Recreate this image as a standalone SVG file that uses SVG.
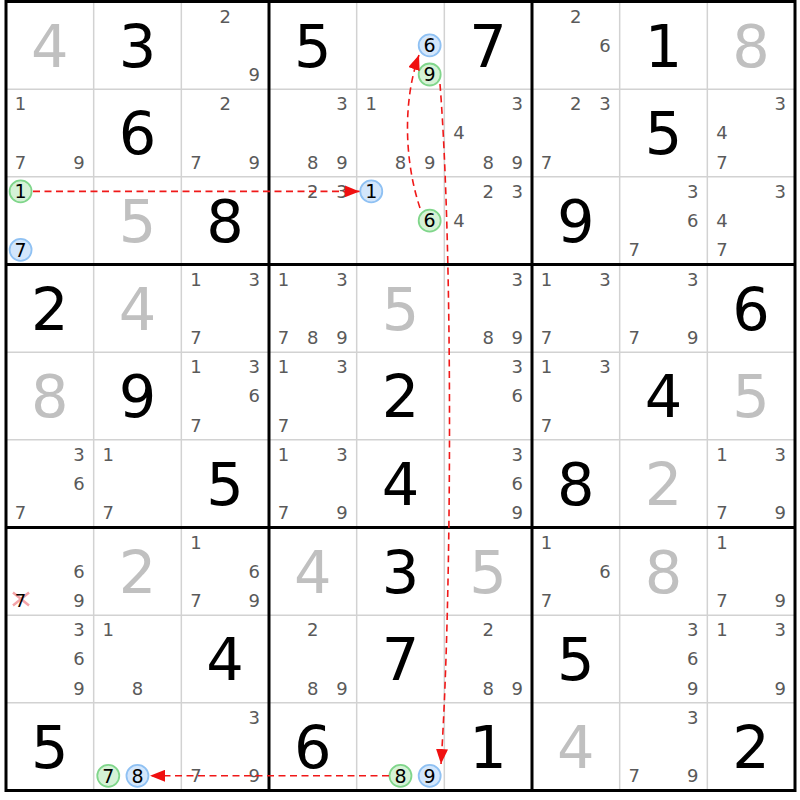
<svg xmlns="http://www.w3.org/2000/svg" width="800" height="800" viewBox="0 0 800 800">
<style>
text{font-family:"DejaVu Sans","Liberation Sans",sans-serif;text-anchor:middle}
.c{font-size:18px;fill:#5a5a5a}
.b{font-size:59px;fill:#000}
.g{font-size:59px;fill:#c0c0c0}
.k{font-size:19px;fill:#000}
.cb{fill:#d3e6fb;stroke:#8fc1f3;stroke-width:1.8}
.cg{fill:#d5f2d6;stroke:#80d68b;stroke-width:1.8}
.thin{stroke:#d2d2d2;stroke-width:1.5}
.thick{stroke:#000;stroke-width:3}
.link{fill:none;stroke:#f01818;stroke-width:1.6;stroke-dasharray:7,4.5}
.x{stroke:#f4a3a8;stroke-width:2.5}
</style>
<defs>
<marker id="ah" markerUnits="userSpaceOnUse" markerWidth="15" markerHeight="12" refX="15" refY="6" orient="auto">
<path d="M0,0 L15,6 L0,12 z" fill="#f01010"/>
</marker>
</defs>
<rect width="800" height="800" fill="#fff"/>
<g id="grid">
<g class="thin">
<line x1="93.67" y1="1.5" x2="93.67" y2="790.5"/>
<line x1="181.33" y1="1.5" x2="181.33" y2="790.5"/>
<line x1="356.67" y1="1.5" x2="356.67" y2="790.5"/>
<line x1="444.33" y1="1.5" x2="444.33" y2="790.5"/>
<line x1="619.67" y1="1.5" x2="619.67" y2="790.5"/>
<line x1="707.33" y1="1.5" x2="707.33" y2="790.5"/>
<line x1="6" y1="89.17" x2="795" y2="89.17"/>
<line x1="6" y1="176.83" x2="795" y2="176.83"/>
<line x1="6" y1="352.17" x2="795" y2="352.17"/>
<line x1="6" y1="439.83" x2="795" y2="439.83"/>
<line x1="6" y1="615.17" x2="795" y2="615.17"/>
<line x1="6" y1="702.83" x2="795" y2="702.83"/>
</g>
<g class="thick">
<line x1="269" y1="1.5" x2="269" y2="790.5"/>
<line x1="532" y1="1.5" x2="532" y2="790.5"/>
<line x1="6" y1="264.5" x2="795" y2="264.5"/>
<line x1="6" y1="527.5" x2="795" y2="527.5"/>
<rect x="6" y="1.5" width="789" height="789" fill="none"/>
</g>
</g>

<!-- row 0 -->
<g id="r0c0" transform="translate(6,1.5)"><text class="g" x="43.8" y="65">4</text></g>
<g id="r0c1" transform="translate(93.67,1.5)"><text class="b" x="43.8" y="65">3</text></g>
<g id="r0c2" transform="translate(181.33,1.5)"><text class="c" x="43.8" y="21">2</text><text class="c" x="73" y="79.5">9</text></g>
<g id="r0c3" transform="translate(269,1.5)"><text class="b" x="43.8" y="65">5</text></g>
<g id="r0c4" transform="translate(356.67,1.5)"><circle class="cb" cx="73" cy="43.8" r="11"/><text class="k" x="73" y="50.6">6</text><circle class="cg" cx="73" cy="73" r="11"/><text class="k" x="73" y="79.8">9</text></g>
<g id="r0c5" transform="translate(444.33,1.5)"><text class="b" x="43.8" y="65">7</text></g>
<g id="r0c6" transform="translate(532,1.5)"><text class="c" x="43.8" y="21">2</text><text class="c" x="73" y="50.3">6</text></g>
<g id="r0c7" transform="translate(619.67,1.5)"><text class="b" x="43.8" y="65">1</text></g>
<g id="r0c8" transform="translate(707.33,1.5)"><text class="g" x="43.8" y="65">8</text></g>

<!-- row 1 -->
<g id="r1c0" transform="translate(6,89.17)"><text class="c" x="14.6" y="21">1</text><text class="c" x="14.6" y="79.5">7</text><text class="c" x="73" y="79.5">9</text></g>
<g id="r1c1" transform="translate(93.67,89.17)"><text class="b" x="43.8" y="65">6</text></g>
<g id="r1c2" transform="translate(181.33,89.17)"><text class="c" x="43.8" y="21">2</text><text class="c" x="14.6" y="79.5">7</text><text class="c" x="73" y="79.5">9</text></g>
<g id="r1c3" transform="translate(269,89.17)"><text class="c" x="73" y="21">3</text><text class="c" x="43.8" y="79.5">8</text><text class="c" x="73" y="79.5">9</text></g>
<g id="r1c4" transform="translate(356.67,89.17)"><text class="c" x="14.6" y="21">1</text><text class="c" x="43.8" y="79.5">8</text><text class="c" x="73" y="79.5">9</text></g>
<g id="r1c5" transform="translate(444.33,89.17)"><text class="c" x="73" y="21">3</text><text class="c" x="14.6" y="50.3">4</text><text class="c" x="43.8" y="79.5">8</text><text class="c" x="73" y="79.5">9</text></g>
<g id="r1c6" transform="translate(532,89.17)"><text class="c" x="43.8" y="21">2</text><text class="c" x="73" y="21">3</text><text class="c" x="14.6" y="79.5">7</text></g>
<g id="r1c7" transform="translate(619.67,89.17)"><text class="b" x="43.8" y="65">5</text></g>
<g id="r1c8" transform="translate(707.33,89.17)"><text class="c" x="73" y="21">3</text><text class="c" x="14.6" y="50.3">4</text><text class="c" x="14.6" y="79.5">7</text></g>

<!-- row 2 -->
<g id="r2c0" transform="translate(6,176.83)"><circle class="cg" cx="14.6" cy="14.6" r="11"/><text class="k" x="14.6" y="21.4">1</text><circle class="cb" cx="14.6" cy="73" r="11"/><text class="k" x="14.6" y="79.8">7</text></g>
<g id="r2c1" transform="translate(93.67,176.83)"><text class="g" x="43.8" y="65">5</text></g>
<g id="r2c2" transform="translate(181.33,176.83)"><text class="b" x="43.8" y="65">8</text></g>
<g id="r2c3" transform="translate(269,176.83)"><text class="c" x="43.8" y="21">2</text><text class="c" x="73" y="21">3</text></g>
<g id="r2c4" transform="translate(356.67,176.83)"><circle class="cb" cx="14.6" cy="14.6" r="11"/><text class="k" x="14.6" y="21.4">1</text><circle class="cg" cx="73" cy="43.8" r="11"/><text class="k" x="73" y="50.6">6</text></g>
<g id="r2c5" transform="translate(444.33,176.83)"><text class="c" x="43.8" y="21">2</text><text class="c" x="73" y="21">3</text><text class="c" x="14.6" y="50.3">4</text></g>
<g id="r2c6" transform="translate(532,176.83)"><text class="b" x="43.8" y="65">9</text></g>
<g id="r2c7" transform="translate(619.67,176.83)"><text class="c" x="73" y="21">3</text><text class="c" x="73" y="50.3">6</text><text class="c" x="14.6" y="79.5">7</text></g>
<g id="r2c8" transform="translate(707.33,176.83)"><text class="c" x="73" y="21">3</text><text class="c" x="14.6" y="50.3">4</text><text class="c" x="14.6" y="79.5">7</text></g>

<!-- row 3 -->
<g id="r3c0" transform="translate(6,264.5)"><text class="b" x="43.8" y="65">2</text></g>
<g id="r3c1" transform="translate(93.67,264.5)"><text class="g" x="43.8" y="65">4</text></g>
<g id="r3c2" transform="translate(181.33,264.5)"><text class="c" x="14.6" y="21">1</text><text class="c" x="73" y="21">3</text><text class="c" x="14.6" y="79.5">7</text></g>
<g id="r3c3" transform="translate(269,264.5)"><text class="c" x="14.6" y="21">1</text><text class="c" x="73" y="21">3</text><text class="c" x="14.6" y="79.5">7</text><text class="c" x="43.8" y="79.5">8</text><text class="c" x="73" y="79.5">9</text></g>
<g id="r3c4" transform="translate(356.67,264.5)"><text class="g" x="43.8" y="65">5</text></g>
<g id="r3c5" transform="translate(444.33,264.5)"><text class="c" x="73" y="21">3</text><text class="c" x="43.8" y="79.5">8</text><text class="c" x="73" y="79.5">9</text></g>
<g id="r3c6" transform="translate(532,264.5)"><text class="c" x="14.6" y="21">1</text><text class="c" x="73" y="21">3</text><text class="c" x="14.6" y="79.5">7</text></g>
<g id="r3c7" transform="translate(619.67,264.5)"><text class="c" x="73" y="21">3</text><text class="c" x="14.6" y="79.5">7</text><text class="c" x="73" y="79.5">9</text></g>
<g id="r3c8" transform="translate(707.33,264.5)"><text class="b" x="43.8" y="65">6</text></g>

<!-- row 4 -->
<g id="r4c0" transform="translate(6,352.17)"><text class="g" x="43.8" y="65">8</text></g>
<g id="r4c1" transform="translate(93.67,352.17)"><text class="b" x="43.8" y="65">9</text></g>
<g id="r4c2" transform="translate(181.33,352.17)"><text class="c" x="14.6" y="21">1</text><text class="c" x="73" y="21">3</text><text class="c" x="73" y="50.3">6</text><text class="c" x="14.6" y="79.5">7</text></g>
<g id="r4c3" transform="translate(269,352.17)"><text class="c" x="14.6" y="21">1</text><text class="c" x="73" y="21">3</text><text class="c" x="14.6" y="79.5">7</text></g>
<g id="r4c4" transform="translate(356.67,352.17)"><text class="b" x="43.8" y="65">2</text></g>
<g id="r4c5" transform="translate(444.33,352.17)"><text class="c" x="73" y="21">3</text><text class="c" x="73" y="50.3">6</text></g>
<g id="r4c6" transform="translate(532,352.17)"><text class="c" x="14.6" y="21">1</text><text class="c" x="73" y="21">3</text><text class="c" x="14.6" y="79.5">7</text></g>
<g id="r4c7" transform="translate(619.67,352.17)"><text class="b" x="43.8" y="65">4</text></g>
<g id="r4c8" transform="translate(707.33,352.17)"><text class="g" x="43.8" y="65">5</text></g>

<!-- row 5 -->
<g id="r5c0" transform="translate(6,439.83)"><text class="c" x="73" y="21">3</text><text class="c" x="73" y="50.3">6</text><text class="c" x="14.6" y="79.5">7</text></g>
<g id="r5c1" transform="translate(93.67,439.83)"><text class="c" x="14.6" y="21">1</text><text class="c" x="14.6" y="79.5">7</text></g>
<g id="r5c2" transform="translate(181.33,439.83)"><text class="b" x="43.8" y="65">5</text></g>
<g id="r5c3" transform="translate(269,439.83)"><text class="c" x="14.6" y="21">1</text><text class="c" x="73" y="21">3</text><text class="c" x="14.6" y="79.5">7</text><text class="c" x="73" y="79.5">9</text></g>
<g id="r5c4" transform="translate(356.67,439.83)"><text class="b" x="43.8" y="65">4</text></g>
<g id="r5c5" transform="translate(444.33,439.83)"><text class="c" x="73" y="21">3</text><text class="c" x="73" y="50.3">6</text><text class="c" x="73" y="79.5">9</text></g>
<g id="r5c6" transform="translate(532,439.83)"><text class="b" x="43.8" y="65">8</text></g>
<g id="r5c7" transform="translate(619.67,439.83)"><text class="g" x="43.8" y="65">2</text></g>
<g id="r5c8" transform="translate(707.33,439.83)"><text class="c" x="14.6" y="21">1</text><text class="c" x="73" y="21">3</text><text class="c" x="14.6" y="79.5">7</text><text class="c" x="73" y="79.5">9</text></g>

<!-- row 6 -->
<g id="r6c0" transform="translate(6,527.5)"><text class="c" x="73" y="50.3">6</text><line class="x" x1="7" y1="65" x2="23" y2="78"/><line class="x" x1="7" y1="78" x2="23" y2="65"/><text class="k" x="14.6" y="79.5" style="font-size:18px">7</text><text class="c" x="73" y="79.5">9</text></g>
<g id="r6c1" transform="translate(93.67,527.5)"><text class="g" x="43.8" y="65">2</text></g>
<g id="r6c2" transform="translate(181.33,527.5)"><text class="c" x="14.6" y="21">1</text><text class="c" x="73" y="50.3">6</text><text class="c" x="14.6" y="79.5">7</text><text class="c" x="73" y="79.5">9</text></g>
<g id="r6c3" transform="translate(269,527.5)"><text class="g" x="43.8" y="65">4</text></g>
<g id="r6c4" transform="translate(356.67,527.5)"><text class="b" x="43.8" y="65">3</text></g>
<g id="r6c5" transform="translate(444.33,527.5)"><text class="g" x="43.8" y="65">5</text></g>
<g id="r6c6" transform="translate(532,527.5)"><text class="c" x="14.6" y="21">1</text><text class="c" x="73" y="50.3">6</text><text class="c" x="14.6" y="79.5">7</text></g>
<g id="r6c7" transform="translate(619.67,527.5)"><text class="g" x="43.8" y="65">8</text></g>
<g id="r6c8" transform="translate(707.33,527.5)"><text class="c" x="14.6" y="21">1</text><text class="c" x="14.6" y="79.5">7</text><text class="c" x="73" y="79.5">9</text></g>

<!-- row 7 -->
<g id="r7c0" transform="translate(6,615.17)"><text class="c" x="73" y="21">3</text><text class="c" x="73" y="50.3">6</text><text class="c" x="73" y="79.5">9</text></g>
<g id="r7c1" transform="translate(93.67,615.17)"><text class="c" x="14.6" y="21">1</text><text class="c" x="43.8" y="79.5">8</text></g>
<g id="r7c2" transform="translate(181.33,615.17)"><text class="b" x="43.8" y="65">4</text></g>
<g id="r7c3" transform="translate(269,615.17)"><text class="c" x="43.8" y="21">2</text><text class="c" x="43.8" y="79.5">8</text><text class="c" x="73" y="79.5">9</text></g>
<g id="r7c4" transform="translate(356.67,615.17)"><text class="b" x="43.8" y="65">7</text></g>
<g id="r7c5" transform="translate(444.33,615.17)"><text class="c" x="43.8" y="21">2</text><text class="c" x="43.8" y="79.5">8</text><text class="c" x="73" y="79.5">9</text></g>
<g id="r7c6" transform="translate(532,615.17)"><text class="b" x="43.8" y="65">5</text></g>
<g id="r7c7" transform="translate(619.67,615.17)"><text class="c" x="73" y="21">3</text><text class="c" x="73" y="50.3">6</text><text class="c" x="73" y="79.5">9</text></g>
<g id="r7c8" transform="translate(707.33,615.17)"><text class="c" x="14.6" y="21">1</text><text class="c" x="73" y="21">3</text><text class="c" x="73" y="79.5">9</text></g>

<!-- row 8 -->
<g id="r8c0" transform="translate(6,702.83)"><text class="b" x="43.8" y="65">5</text></g>
<g id="r8c1" transform="translate(93.67,702.83)"><circle class="cg" cx="14.6" cy="73" r="11"/><text class="k" x="14.6" y="79.8">7</text><circle class="cb" cx="43.8" cy="73" r="11"/><text class="k" x="43.8" y="79.8">8</text></g>
<g id="r8c2" transform="translate(181.33,702.83)"><text class="c" x="73" y="21">3</text><text class="c" x="14.6" y="79.5">7</text><text class="c" x="73" y="79.5">9</text></g>
<g id="r8c3" transform="translate(269,702.83)"><text class="b" x="43.8" y="65">6</text></g>
<g id="r8c4" transform="translate(356.67,702.83)"><circle class="cg" cx="43.8" cy="73" r="11"/><text class="k" x="43.8" y="79.8">8</text><circle class="cb" cx="73" cy="73" r="11"/><text class="k" x="73" y="79.8">9</text></g>
<g id="r8c5" transform="translate(444.33,702.83)"><text class="b" x="43.8" y="65">1</text></g>
<g id="r8c6" transform="translate(532,702.83)"><text class="g" x="43.8" y="65">4</text></g>
<g id="r8c7" transform="translate(619.67,702.83)"><text class="c" x="73" y="21">3</text><text class="c" x="14.6" y="79.5">7</text><text class="c" x="73" y="79.5">9</text></g>
<g id="r8c8" transform="translate(707.33,702.83)"><text class="b" x="43.8" y="65">2</text></g>

<g id="connectors">
<path class="link" d="M33,191.4 L359.5,191.4" marker-end="url(#ah)"/>
<path class="link" d="M420,208 C404,160 403,100 419,55" marker-end="url(#ah)"/>
<path class="link" d="M440,84 C453,250 452,600 441,764" marker-end="url(#ah)"/>
<path class="link" d="M389,775.8 L150,775.8" marker-end="url(#ah)"/>
</g>
</svg>
